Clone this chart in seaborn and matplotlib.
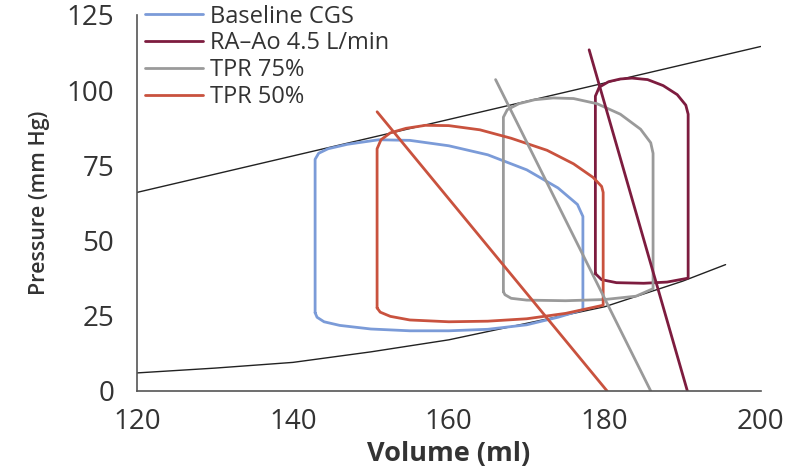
import numpy as np
import pandas as pd
import matplotlib
matplotlib.use('Agg')
import matplotlib.pyplot as plt
from matplotlib.ticker import MultipleLocator
import seaborn as sns

sns.set_style('white')
plt.rcParams['font.family'] = ['Open Sans', 'DejaVu Sans']

# end-systolic / end-diastolic pressure-volume relations
espvr_vol = [120, 200]
espvr_p = [66, 114.5]
edpvr_vol = [120, 130, 140, 150, 160, 170, 180, 190, 195.5]
edpvr_p = [6, 7.6, 9.5, 13, 17, 22.5, 28, 36.5, 42]

# PV loops (closed paths)
base_vol = [142.85, 142.85, 143.3, 144.5, 147, 151, 155, 160, 165, 170, 174, 176.5, 177.2,
            177.2, 174, 170, 165, 160, 155, 150, 146, 144, 143.1, 142.85]
base_p = [26, 77, 79, 80.5, 82, 83.5, 83.3, 81.5, 78.5, 73.5, 67.5, 62, 58,
          27, 24.5, 22, 20.5, 20, 20, 20.6, 21.8, 23, 24.5, 26]

raao_vol = [178.8, 178.8, 179.3, 180.5, 182, 183.5, 185.5, 187.5, 189.3, 190.4, 190.7,
            190.7, 188, 185, 181.5, 179.6, 178.8]
raao_p = [39, 98, 101, 102.8, 103.7, 104, 103.5, 101.5, 98.5, 95, 92,
          37.5, 36.2, 35.8, 36, 37, 39]

tpr75_vol = [167, 167, 167.5, 169, 171, 173.4, 176, 179, 182, 184.6, 185.9, 186.2,
             186.2, 184, 180, 175, 170, 168, 167.2, 167]
tpr75_p = [33, 91, 93.5, 95.5, 96.8, 97.4, 97.2, 95.5, 92, 87, 82.5, 79,
           34, 31.5, 30.4, 30, 30.2, 30.8, 32, 33]

tpr50_vol = [150.8, 150.8, 151.3, 152.5, 154.5, 157, 160, 164, 168, 172.6, 176, 178.5, 179.6, 179.8,
             179.8, 175, 170, 165, 160, 155, 152.5, 151.2, 150.8]
tpr50_p = [27.6, 80.5, 83.5, 85.8, 87.3, 88.3, 88.2, 86.8, 84, 80, 75.5, 71, 68, 66,
           28.5, 25.8, 24, 23.2, 23, 23.6, 24.8, 26.2, 27.6]

# arterial elastance lines
ea_raao_vol = [178, 190.6]
ea_raao_p = [113.4, 0]
ea_tpr75_vol = [166, 185.9]
ea_tpr75_p = [103.5, 0]
ea_tpr50_vol = [150.8, 180.3]
ea_tpr50_p = [92.8, 0]

labels = ['Baseline CGS', 'RA\u2013Ao 4.5 L/min', 'TPR 75%', 'TPR 50%']
colors = ['#7b9bd8', '#7d1c3f', '#9a9a9a', '#c9523e']

fig = plt.figure(figsize=(7.94, 4.66), dpi=100)
ax = fig.add_axes([0.1725, 0.161, 0.7855, 0.807])

sns.lineplot(x=espvr_vol, y=espvr_p, color='#222222', lw=1.0, ax=ax)
sns.lineplot(x=edpvr_vol, y=edpvr_p, color='#222222', lw=1.0, ax=ax)

loops = [(base_vol, base_p), (raao_vol, raao_p), (tpr75_vol, tpr75_p), (tpr50_vol, tpr50_p)]
handles = []
for (v, p), lab, c in zip(loops, labels, colors):
    df = pd.DataFrame({'vol': v, 'p': p})
    sns.lineplot(data=df, x='vol', y='p', sort=False, estimator=None, color=c, lw=2.0, ax=ax)
    handles.append(ax.lines[-1])

for v, p, c in [(ea_raao_vol, ea_raao_p, colors[1]), (ea_tpr75_vol, ea_tpr75_p, colors[2]),
                (ea_tpr50_vol, ea_tpr50_p, colors[3])]:
    sns.lineplot(x=v, y=p, color=c, lw=2.0, ax=ax)

ax.set_xlim(120, 200)
ax.set_ylim(0, 125)
ax.xaxis.set_major_locator(MultipleLocator(20))
ax.xaxis.set_minor_locator(MultipleLocator(10))
ax.yaxis.set_major_locator(MultipleLocator(25))
ax.yaxis.set_minor_locator(MultipleLocator(12.5))
ax.tick_params(which='both', width=1.1, color='#555555', direction='out')
ax.tick_params(axis='y', which='major', length=8.5, labelsize=20, labelcolor='#333333', pad=8)
ax.tick_params(axis='y', which='minor', length=5.5)
ax.tick_params(axis='x', which='major', length=6, labelsize=20, labelcolor='#333333', pad=6)
ax.tick_params(axis='x', which='minor', length=4)
for s in ['top', 'right']:
    ax.spines[s].set_visible(False)
for s in ['left', 'bottom']:
    ax.spines[s].set_color('#555555')
    ax.spines[s].set_linewidth(1.2)

ax.set_xlabel('Volume (ml)', fontsize=19.5, fontweight='bold', color='#333333', labelpad=4)
ax.set_ylabel('Pressure (mm Hg)', fontsize=15.5, fontweight='semibold', color='#333333', labelpad=12)

ax.legend(handles, labels, loc='upper left', bbox_to_anchor=(-0.01, 1.065), frameon=False,
          fontsize=17, handlelength=2.45, handletextpad=0.3, labelspacing=0.12,
          borderaxespad=0.2, labelcolor='#333333')

fig.savefig('out.png', dpi=100)
